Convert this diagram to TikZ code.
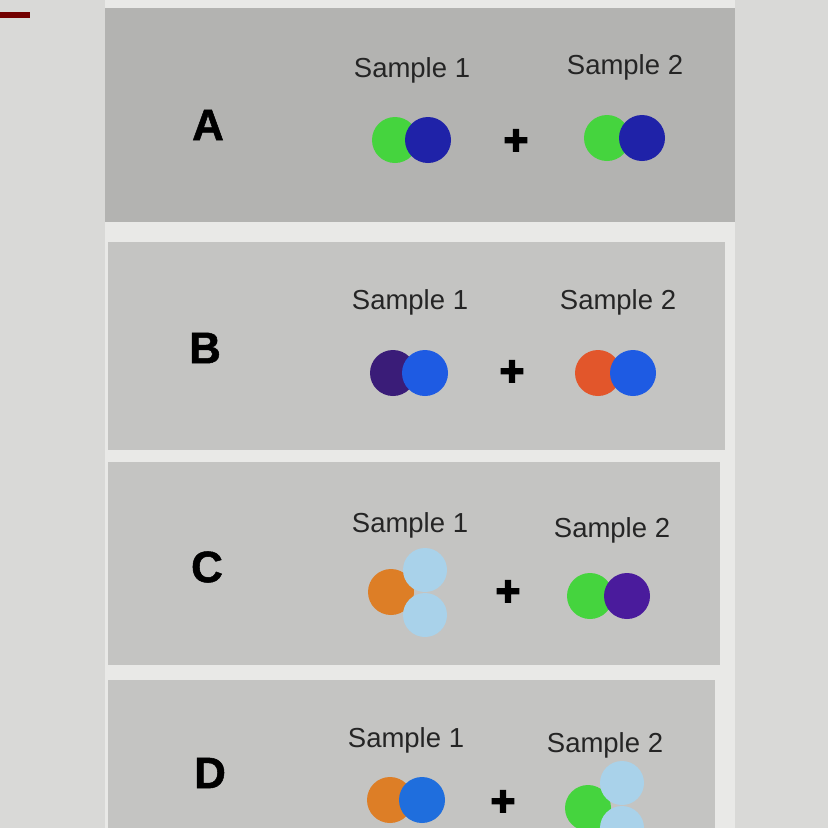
\documentclass[tikz,border=0pt]{standalone}
\usepackage{fontspec}
\setmainfont{Liberation Sans}
\newfontfamily\heavyfont{Liberation Sans Bold}[FakeBold=4]
\newfontfamily\letterfont{Liberation Sans Bold}[FakeBold=1.2]
\usepackage{xcolor}
\usepackage{tikz}
\definecolor{screen}{HTML}{D9D9D7}
\definecolor{bandgray}{HTML}{E9E9E7}
\definecolor{panelA}{HTML}{B3B3B1}
\definecolor{panelB}{HTML}{C4C4C2}
\definecolor{inkgray}{HTML}{252525}
\definecolor{leafgreen}{HTML}{45D43E}
\definecolor{navyblue}{HTML}{1F22A8}
\definecolor{deeppurple}{HTML}{3A1C78}
\definecolor{brightblue}{HTML}{1E5BE3}
\definecolor{redorange}{HTML}{E2562B}
\definecolor{amber}{HTML}{DD7E26}
\definecolor{paleblue}{HTML}{A9D2EA}
\definecolor{violet}{HTML}{4A1B9C}
\definecolor{skyblue}{HTML}{1F6EDD}
\tikzset{
    tnode/.style = {align=center, inner sep=0pt, text centered},
    dot/.style = {tnode, circle, minimum size=46pt},
    green_dot/.style = {dot, fill=leafgreen},
    navy_dot/.style = {dot, fill=navyblue},
    purple_dot/.style = {dot, fill=deeppurple},
    blue_dot/.style = {dot, fill=brightblue},
    red_dot/.style = {dot, fill=redorange},
    orange_dot/.style = {dot, fill=amber},
    pale_dot/.style = {dot, fill=paleblue, minimum size=44pt},
    violet_dot/.style = {dot, fill=violet},
    sky_dot/.style = {dot, fill=skyblue},
    lbl/.style = {tnode, inkgray, font=\fontsize{27.5}{30}\selectfont},
    letter/.style = {tnode, black, font=\fontsize{44}{50}\letterfont},
    plus_sign/.style = {tnode, black, font=\fontsize{42}{46}\heavyfont}
}

\begin{document}
\begin{tikzpicture}[x=1pt, y=-1pt]
    \useasboundingbox (0,0) rectangle (828,828);
    \fill[screen] (0,0) rectangle (828,828);
    \fill[bandgray] (105,0) rectangle (735,828);
    \fill[red!45!black] (0,12) rectangle (30,18);

    % panels
    \fill[panelA] (105,8) rectangle (735,222);
    \fill[panelB] (108,242) rectangle (725,450);
    \fill[panelB] (108,462) rectangle (720,665);
    \fill[panelB] (108,680) rectangle (715,828);

    % A
    \node [letter] (la) at (208,125) {A};
    \node [lbl] (a1) at (412,70) {Sample 1};
    \node [lbl] (a2) at (625,67) {Sample 2};
    \node [green_dot] (a1g) at (395,140) {};
    \node [navy_dot] (a1b) at (428,140) {};
    \node [plus_sign] (pa) at (516,142) {+};
    \node [green_dot] (a2g) at (607,138) {};
    \node [navy_dot] (a2b) at (642,138) {};

    % B
    \node [letter] (lb) at (205,348) {B};
    \node [lbl] (b1) at (410,302) {Sample 1};
    \node [lbl] (b2) at (618,302) {Sample 2};
    \node [purple_dot] (b1p) at (393,373) {};
    \node [blue_dot] (b1b) at (425,373) {};
    \node [plus_sign] (pb) at (512,373) {+};
    \node [red_dot] (b2r) at (598,373) {};
    \node [blue_dot] (b2b) at (633,373) {};

    % C
    \node [letter] (lc) at (207,567) {C};
    \node [lbl] (c1) at (410,525) {Sample 1};
    \node [lbl] (c2) at (612,530) {Sample 2};
    \node [orange_dot] (c1o) at (391,592) {};
    \node [pale_dot] (c1t) at (425,570) {};
    \node [pale_dot] (c1u) at (425,615) {};
    \node [plus_sign] (pc) at (508,593) {+};
    \node [green_dot] (c2g) at (590,596) {};
    \node [violet_dot] (c2v) at (627,596) {};

    % D
    \node [letter] (ld) at (210,773) {D};
    \node [lbl] (d1) at (406,740) {Sample 1};
    \node [lbl] (d2) at (605,745) {Sample 2};
    \node [orange_dot] (d1o) at (390,800) {};
    \node [sky_dot] (d1b) at (422,800) {};
    \node [plus_sign] (pd) at (503,803) {+};
    \node [green_dot] (d2g) at (588,808) {};
    \node [pale_dot] (d2t) at (622,783) {};
    \node [pale_dot] (d2u) at (622,828) {};
\end{tikzpicture}
\end{document}
